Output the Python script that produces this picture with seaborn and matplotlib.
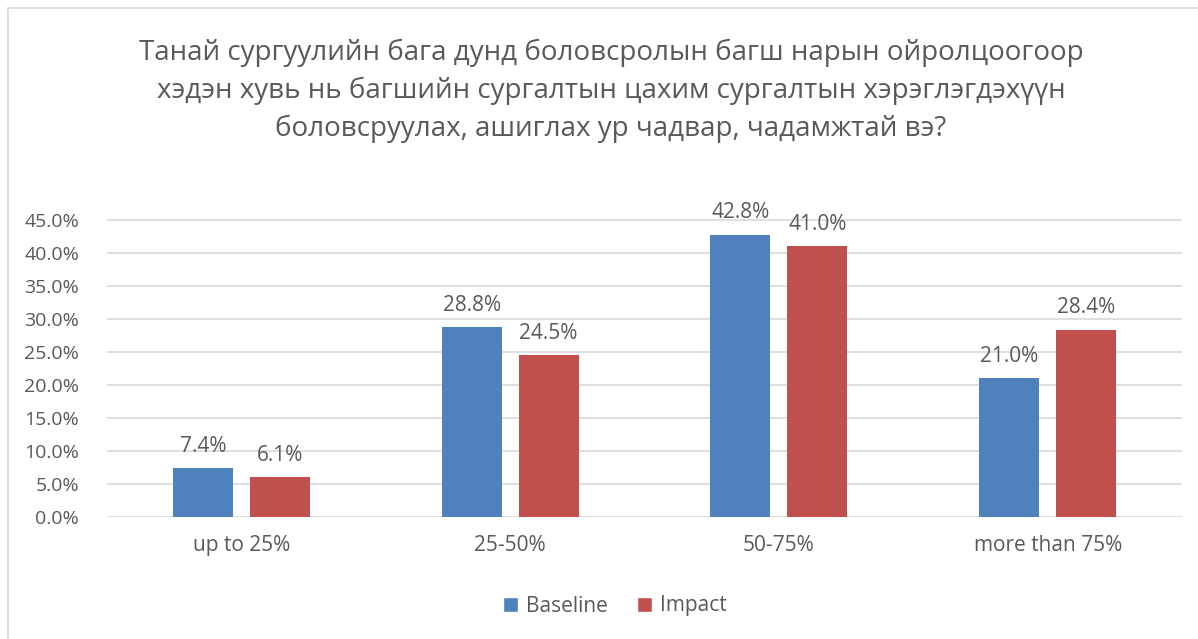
import matplotlib
matplotlib.use("Agg")
import matplotlib.pyplot as plt
from matplotlib.patches import Rectangle, Patch
from matplotlib.ticker import PercentFormatter
import seaborn as sns
import pandas as pd

categories = ["up to 25%", "25-50%", "50-75%", "more than 75%"]
baseline = [7.4, 28.8, 42.8, 21.0]
impact = [6.1, 24.5, 41.0, 28.4]
series_names = ["Baseline", "Impact"]
title = ("Танай сургуулийн бага дунд боловсролын багш нарын ойролцоогоор\n"
         "хэдэн хувь нь багшийн сургалтын цахим сургалтын хэрэглэгдэхүүн\n"
         "боловсруулах, ашиглах ур чадвар, чадамжтай вэ?")

df = pd.DataFrame({
    "category": categories * 2,
    "value": baseline + impact,
    "series": [series_names[0]] * 4 + [series_names[1]] * 4,
})

sns.set_theme(style="white")
plt.rcParams["font.family"] = ["Open Sans", "DejaVu Sans"]
text_color = "#595959"
colors = {"Baseline": "#4F81BD", "Impact": "#C0504D"}

W, H = 1198, 639
fig = plt.figure(figsize=(W / 100, H / 100), dpi=100)
ax = fig.add_axes([107 / W, 1 - 517 / H, (1182 - 107) / W, (517 - 220) / H * 50 / 45])

sns.barplot(data=df, x="category", y="value", hue="series", palette=colors,
            width=0.573, gap=0.22, saturation=1, linewidth=0, edgecolor="none",
            ax=ax, legend=False)

ax.set_ylim(0, 50)
ax.set_xlim(-0.5, 3.5)
ax.set_yticks(list(range(0, 50, 5)))
ax.yaxis.set_major_formatter(PercentFormatter(decimals=1))
ax.grid(axis="y", color="#d9d9d9", linewidth=1.2)
ax.set_axisbelow(True)
for s in ax.spines.values():
    s.set_visible(False)
ax.set_xlabel("")
ax.set_ylabel("")
ax.tick_params(axis="y", length=0, labelsize=14, labelcolor=text_color, pad=20)
ax.tick_params(axis="x", length=0, labelsize=15, labelcolor=text_color, pad=13)

for cont in ax.containers:
    ax.bar_label(cont, fmt="%.1f%%", padding=8, fontsize=15, color=text_color)

fig.text(611 / W, 1 - 91 / H, title, ha="center", va="center", fontsize=20,
         color=text_color, linespacing=1.45)

handles = [Patch(facecolor=colors[n], label=n) for n in series_names]
fig.legend(handles=handles, loc="center", bbox_to_anchor=(615 / W, 1 - 606 / H),
           ncol=2, frameon=False, fontsize=15, labelcolor=text_color,
           handlelength=0.7, handleheight=0.7, handletextpad=0.4, columnspacing=1.4)

fig.patches.append(Rectangle((8 / W, -0.1), 1.2, 1 - 8 / H + 0.1, transform=fig.transFigure,
                             fill=False, edgecolor="#d9d9d9", linewidth=1.2))

fig.savefig("out.png", dpi=100, facecolor="white")
